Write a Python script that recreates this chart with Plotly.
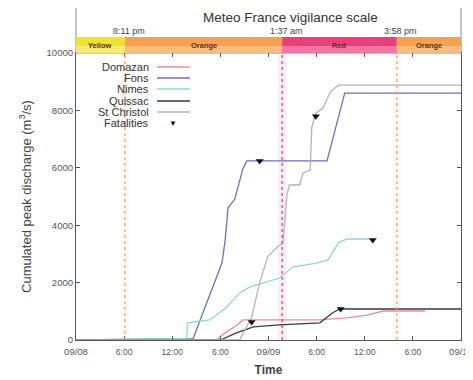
import plotly.graph_objects as go

# ---- data (hours since 09/08 00:00, cumulated peak discharge m3/s) ----
domazan_t = [0, 17.5, 18.6, 20.1, 20.8, 30.4, 33.8, 36.3, 38.3, 43.5]
domazan_v = [0, 0, 250, 520, 700, 700, 770, 870, 1010, 1010]

fons_t = [0, 11.0, 14.6, 16.1, 17.6, 18.2, 18.6, 18.95, 19.8, 20.4, 20.8, 21.3, 31.3, 33.5, 48]
fons_v = [0, 30, 50, 1150, 2200, 2680, 3480, 4600, 4910, 5540, 5960, 6240, 6240, 8600, 8600]

nimes_t = [0, 13.8, 13.9, 16.7, 18.8, 20.4, 21.7, 23.3, 25.4, 27.0, 30.0, 31.4, 32.8, 33.8, 36.6]
nimes_v = [0, 60, 600, 700, 1150, 1640, 1850, 1990, 2160, 2540, 2680, 2790, 3410, 3520, 3520]

quissac_t = [0, 18.0, 20.0, 22.1, 25.4, 30.4, 32.0, 32.9, 48]
quissac_v = [0, 0, 250, 460, 530, 600, 950, 1080, 1080]

stchristol_t = [0, 20.4, 21.9, 22.9, 23.9, 25.1, 25.8, 26.3, 26.6, 27.9, 28.3, 29.2, 29.4, 29.9, 30.8, 31.7, 32.7, 48]
stchristol_v = [0, 0, 800, 2000, 2900, 3240, 3380, 5050, 5400, 5400, 5820, 5920, 7420, 7900, 8080, 8640, 8880, 8880]

fatal_t = [21.9, 22.9, 29.9, 33.0, 37.0]
fatal_v = [630, 6240, 7800, 1080, 3480]

vig_bounds = [0, 6.1, 25.7, 40.0, 48]
vig_labels = ["Yellow", "Orange", "Red", "Orange"]
vig_change_labels = ["8:11 pm", "1:37 am", "3:58 pm"]

x_tickvals = [0, 6, 12, 18, 24, 30, 36, 42, 48]
x_ticktext = ["09/08", "6:00", "12:00", "6:00", "09/09", "6:00", "12:00", "6:00", "09/10"]
y_tickvals = [0, 2000, 4000, 6000, 8000, 10000]
y_ticktext = ["0", "2000", "4000", "6000", "8000", "10000"]

series = [
    ("Domazan", domazan_t, domazan_v, "#ee8c9c"),
    ("Fons", fons_t, fons_v, "#6e6ec4"),
    ("Nimes", nimes_t, nimes_v, "#8fd6d2"),
    ("Quissac", quissac_t, quissac_v, "#3a3a3a"),
    ("St Christol", stchristol_t, stchristol_v, "#b4b4b4"),
]

# date labels are drawn a bit larger than the hour labels
x_ticktext_styled = [
    ('<span style="font-size:9.5px">%s</span>' % s) if "/" in s else s for s in x_ticktext
]

fig = go.Figure()
for name, t, v, c in series:
    fig.add_trace(go.Scatter(x=t, y=v, mode="lines", name=name,
                             line=dict(color=c, width=1.3), showlegend=False))
fig.add_trace(go.Scatter(x=fatal_t, y=fatal_v, mode="markers", name="Fatalities",
                         marker=dict(symbol="triangle-down", size=7, color="#111"),
                         showlegend=False))

shapes = []
annotations = []

# vigilance change lines with faint glow
line_cols = ["#f0a060", "#e8386a", "#f0a868"]
for b, c in zip(vig_bounds[1:-1], line_cols):
    shapes.append(dict(type="line", xref="x", yref="paper", x0=b, x1=b, y0=0, y1=1,
                       line=dict(color=c, width=8), opacity=0.08, layer="below"))
    shapes.append(dict(type="line", xref="x", yref="paper", x0=b, x1=b, y0=0, y1=1,
                       line=dict(color=c, width=1.2, dash="dot")))

# header box
shapes.append(dict(type="rect", xref="paper", yref="paper", x0=0, x1=1, y0=1.0, y1=1.167,
                   line=dict(color="#888", width=1), fillcolor="white", layer="below"))

bar_cols = ["#f0e030", "#f6a050", "#e8407a", "#f6a050"]
bar_light = ["#f6ee90", "#f9c89a", "#f28eb0", "#f9c89a"]
for i in range(4):
    x0, x1 = vig_bounds[i], vig_bounds[i + 1]
    shapes.append(dict(type="rect", xref="x", yref="paper", x0=x0, x1=x1, y0=1.0, y1=1.056,
                       line=dict(width=0), fillcolor=bar_cols[i]))
    shapes.append(dict(type="rect", xref="x", yref="paper", x0=x0, x1=x1, y0=1.0, y1=1.024,
                       line=dict(width=0), fillcolor=bar_light[i], opacity=0.7))
    annotations.append(dict(x=(x0 + x1) / 2, y=1.027, xref="x", yref="paper",
                            text="<b>%s</b>" % vig_labels[i], showarrow=False,
                            xanchor="center", yanchor="middle",
                            font=dict(size=7.5, color="#5a3020")))
for b, lab in zip(vig_bounds[1:-1], vig_change_labels):
    annotations.append(dict(x=b, y=1.077, xref="x", yref="paper", text=lab, xshift=4,
                            showarrow=False, xanchor="center", yanchor="middle",
                            font=dict(size=9, color="#444")))

annotations.append(dict(x=0.558, y=1.122, xref="paper", yref="paper",
                        text="Meteo France vigilance scale", showarrow=False,
                        xanchor="center", yanchor="middle",
                        font=dict(size=13.5, color="#333")))

# custom legend (text left, sample right)
leg_y_px = [67, 78, 89, 101, 112, 123]
def py(p):
    return (340 - p) / 287.0
def px(p):
    return (p - 76) / 385.0
for (name, t, v, c), yp in zip(series, leg_y_px[:5]):
    annotations.append(dict(x=px(151), y=py(yp), xref="paper", yref="paper", text=name,
                            xanchor="right", yanchor="middle", showarrow=False,
                            font=dict(size=11, color="#333")))
    shapes.append(dict(type="line", xref="paper", yref="paper", x0=px(157), x1=px(190),
                       y0=py(yp), y1=py(yp), line=dict(color=c, width=1.3)))
annotations.append(dict(x=px(151), y=py(leg_y_px[5]), xref="paper", yref="paper",
                        text="Fatalities", xanchor="right", yanchor="middle", showarrow=False,
                        font=dict(size=11, color="#333")))
annotations.append(dict(x=px(173), y=py(leg_y_px[5]), xref="paper", yref="paper",
                        text="▼", showarrow=False, xanchor="center", yanchor="middle",
                        font=dict(size=8, color="#111")))

# page body has an 8px margin: figure is offset by 8px, so size/margins compensate
fig.update_layout(
    width=465, height=372,
    margin=dict(l=68, r=12, t=45, b=40, autoexpand=False),
    paper_bgcolor="white", plot_bgcolor="white",
    font=dict(family="Liberation Sans, Arial, sans-serif", color="#444"),
    shapes=shapes, annotations=annotations, showlegend=False,
    xaxis=dict(range=[0, 48], tickvals=x_tickvals, ticktext=x_ticktext_styled, automargin=False,
               showgrid=False, zeroline=False, showline=True, linecolor="#555",
               linewidth=1.2, mirror="ticks", ticks="inside", ticklen=4, tickcolor="#555",
               tickfont=dict(size=8.5, color="#555"), ticklabelstandoff=4,
               ticklabeloverflow="allow",
               title=dict(text="<b>Time</b>", font=dict(size=12, color="#444"), standoff=9)),
    yaxis=dict(range=[0, 10000], tickvals=y_tickvals, ticktext=y_ticktext, automargin=False,
               showgrid=False, zeroline=False, showline=True, linecolor="#555",
               linewidth=1.2, mirror="ticks", ticks="inside", ticklen=4, tickcolor="#555",
               tickfont=dict(size=9.5, color="#555"),
               title=dict(text="Cumulated peak discharge (m<sup>3</sup>/s)",
                          font=dict(size=13, color="#444"), standoff=12)),
)

fig.write_html("out.html")
